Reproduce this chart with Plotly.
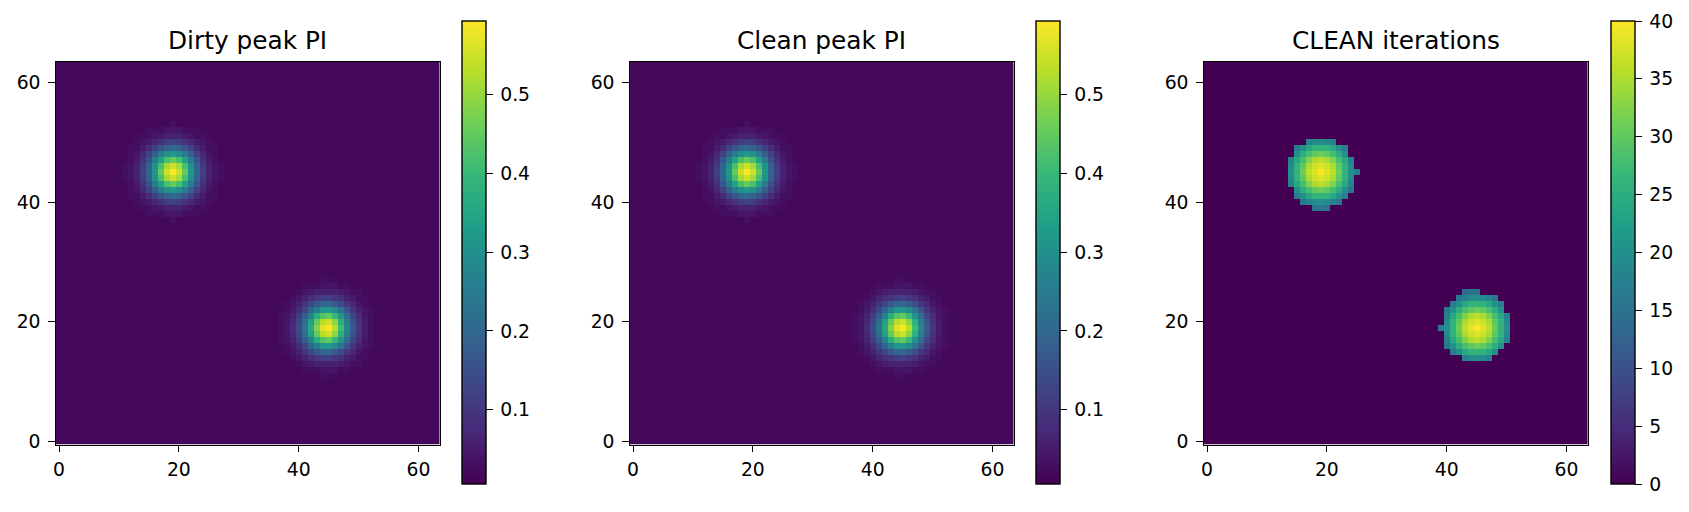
import plotly.graph_objects as go

GRID_SIZE = 64
TICKS = [0, 20, 40, 60]
TITLES = ["Dirty peak PI", "Clean peak PI", "CLEAN iterations"]

# Polarised-intensity level away from the sources (one estimated level; the
# per-pixel grain is too faint to read, so it is not reproduced).
PI_BACKGROUND = 0.02
PI_MIN = 0.006
PI_MAX = 0.593
PI_TICKS = [0.1, 0.2, 0.3, 0.4, 0.5]
ITER_TICKS = [0, 5, 10, 15, 20, 25, 30, 35, 40]

# Source near (19, 45): rows run from y=37 upward, columns from x=11.
PI_SOURCE_A = [
    [.02, .02, .02, .02, .02, .02, .02, .02, .03, .02, .02, .02, .02, .02, .02, .02, .02],
    [.02, .02, .02, .02, .03, .03, .03, .04, .04, .04, .03, .03, .03, .02, .02, .02, .02],
    [.02, .02, .02, .03, .03, .04, .05, .06, .06, .06, .05, .04, .03, .03, .02, .02, .02],
    [.02, .02, .03, .04, .05, .07, .09, .11, .12, .11, .09, .07, .05, .04, .03, .02, .02],
    [.02, .03, .03, .05, .08, .12, .16, .19, .20, .19, .16, .12, .08, .05, .03, .03, .02],
    [.02, .03, .04, .07, .12, .18, .25, .30, .32, .30, .25, .18, .12, .07, .04, .03, .02],
    [.02, .03, .05, .09, .16, .25, .34, .42, .45, .42, .34, .25, .16, .09, .05, .03, .02],
    [.03, .04, .06, .11, .19, .30, .42, .51, .55, .51, .42, .30, .19, .11, .06, .04, .03],
    [.03, .04, .06, .12, .20, .32, .45, .55, .59, .55, .45, .32, .20, .12, .06, .04, .03],
    [.03, .04, .06, .11, .19, .30, .42, .51, .55, .51, .42, .30, .19, .11, .06, .04, .03],
    [.02, .03, .05, .09, .16, .25, .34, .42, .45, .42, .34, .25, .16, .09, .05, .03, .02],
    [.02, .03, .04, .07, .12, .18, .25, .30, .32, .30, .25, .18, .12, .07, .04, .03, .02],
    [.02, .03, .03, .05, .08, .12, .16, .19, .20, .19, .16, .12, .08, .05, .03, .03, .02],
    [.02, .02, .03, .04, .05, .07, .09, .11, .12, .11, .09, .07, .05, .04, .03, .02, .02],
    [.02, .02, .02, .03, .03, .04, .05, .06, .06, .06, .05, .04, .03, .03, .02, .02, .02],
    [.02, .02, .02, .02, .03, .03, .03, .04, .04, .04, .03, .03, .03, .02, .02, .02, .02],
    [.02, .02, .02, .02, .02, .02, .02, .02, .03, .02, .02, .02, .02, .02, .02, .02, .02],
]

# Source near (45, 19): rows run from y=11 upward, columns from x=37.
PI_SOURCE_B = [
    [.02, .02, .02, .02, .02, .02, .02, .03, .03, .02, .02, .02, .02, .02, .02, .02, .02],
    [.02, .02, .02, .02, .03, .03, .03, .04, .04, .04, .03, .03, .02, .02, .02, .02, .02],
    [.02, .02, .02, .03, .04, .05, .06, .06, .06, .06, .05, .04, .03, .03, .02, .02, .02],
    [.02, .02, .03, .04, .06, .08, .10, .11, .12, .10, .09, .06, .05, .03, .03, .02, .02],
    [.02, .03, .04, .06, .09, .13, .17, .20, .20, .18, .14, .10, .07, .04, .03, .02, .02],
    [.02, .03, .05, .08, .13, .20, .26, .31, .32, .29, .23, .16, .10, .06, .04, .03, .02],
    [.03, .04, .06, .11, .18, .27, .37, .43, .45, .40, .31, .22, .13, .08, .04, .03, .02],
    [.03, .04, .07, .13, .22, .34, .45, .53, .55, .49, .38, .26, .16, .09, .05, .03, .02],
    [.03, .04, .08, .14, .23, .36, .48, .57, .59, .53, .41, .28, .17, .10, .05, .03, .02],
    [.03, .04, .07, .13, .22, .34, .45, .53, .55, .49, .38, .26, .16, .09, .05, .03, .02],
    [.03, .04, .06, .11, .18, .27, .37, .43, .45, .40, .31, .22, .13, .08, .04, .03, .02],
    [.02, .03, .05, .08, .13, .20, .26, .31, .32, .29, .23, .16, .10, .06, .04, .03, .02],
    [.02, .03, .04, .06, .09, .13, .17, .20, .20, .18, .14, .10, .07, .04, .03, .02, .02],
    [.02, .02, .03, .04, .06, .08, .10, .11, .12, .10, .09, .06, .05, .03, .03, .02, .02],
    [.02, .02, .02, .03, .04, .05, .06, .06, .06, .06, .05, .04, .03, .03, .02, .02, .02],
    [.02, .02, .02, .02, .03, .03, .03, .04, .04, .04, .03, .03, .02, .02, .02, .02, .02],
    [.02, .02, .02, .02, .02, .02, .02, .03, .03, .02, .02, .02, .02, .02, .02, .02, .02],
]

# Iteration counts around the first source: rows from y=39 upward, columns from x=14.
ITER_SOURCE_A = [
    [0, 0, 0, 0, 15, 16, 15, 0, 0, 0, 0, 0],
    [0, 0, 16, 18, 19, 20, 19, 18, 16, 0, 0, 0],
    [0, 17, 20, 24, 26, 26, 26, 24, 20, 17, 0, 0],
    [0, 20, 25, 28, 30, 31, 30, 28, 25, 20, 16, 0],
    [18, 24, 28, 32, 35, 36, 35, 32, 28, 24, 18, 0],
    [19, 26, 30, 35, 37, 38, 37, 35, 30, 26, 19, 0],
    [20, 26, 31, 36, 38, 40, 38, 36, 31, 26, 20, 17],
    [19, 26, 30, 35, 37, 38, 37, 35, 30, 26, 19, 0],
    [18, 24, 28, 32, 35, 36, 35, 32, 28, 24, 18, 0],
    [0, 20, 25, 28, 30, 31, 30, 28, 25, 20, 0, 0],
    [0, 17, 20, 24, 26, 26, 26, 24, 20, 17, 0, 0],
    [0, 0, 0, 18, 19, 20, 19, 18, 0, 0, 0, 0],
]

# Iteration counts around the second source: rows from y=14 upward, columns from x=39.
ITER_SOURCE_B = [
    [0, 0, 0, 0, 18, 19, 20, 19, 18, 0, 0, 0],
    [0, 0, 17, 20, 24, 26, 26, 26, 24, 20, 0, 0],
    [0, 16, 20, 25, 28, 30, 31, 30, 28, 25, 20, 0],
    [0, 18, 24, 28, 32, 35, 36, 35, 32, 28, 24, 18],
    [0, 19, 26, 30, 35, 37, 38, 37, 35, 30, 26, 19],
    [17, 20, 26, 31, 36, 38, 40, 38, 36, 31, 26, 20],
    [0, 19, 26, 30, 35, 37, 38, 37, 35, 30, 26, 19],
    [0, 18, 24, 28, 32, 35, 36, 35, 32, 28, 24, 18],
    [0, 16, 20, 25, 28, 30, 31, 30, 28, 25, 20, 0],
    [0, 0, 17, 20, 24, 26, 26, 26, 24, 20, 17, 0],
    [0, 0, 0, 16, 18, 19, 20, 19, 18, 16, 0, 0],
    [0, 0, 0, 0, 14, 15, 15, 0, 0, 0, 0, 0],
]

W, H = 1689, 512
# Pixel boxes: (left, right) for each image and colour bar, then shared vertical extents.
IMAGE_X = [(56, 439.5), (630, 1013.5), (1204, 1587.5)]
IMAGE_Y = (61.5, 444.5)
BAR_X = [461.5, 1036, 1610.5]
BAR_W = 24
BAR_Y = (21.5, 484)
FONT = "DejaVu Sans"
TICK_SIZE = 18.8
TITLE_SIZE = 24.8
LINE_W = 1.4


def stamp(level, patches):
    grid = [[level] * GRID_SIZE for _ in range(GRID_SIZE)]
    for (x0, y0), patch in patches:
        for r, row in enumerate(patch):
            for c, value in enumerate(row):
                if level == 0 and value == 0:
                    continue
                grid[y0 + r][x0 + c] = value
    return grid


pi_grid = stamp(PI_BACKGROUND, [((11, 37), PI_SOURCE_A), ((37, 11), PI_SOURCE_B)])
iter_grid = stamp(0, [((14, 39), ITER_SOURCE_A), ((39, 14), ITER_SOURCE_B)])

panels = [
    (pi_grid, PI_MIN, PI_MAX, PI_TICKS, "%.1f"),
    (pi_grid, PI_MIN, PI_MAX, PI_TICKS, "%.1f"),
    (iter_grid, 0, 40, ITER_TICKS, "%d"),
]

fig = go.Figure()
annotations = []
layout_axes = {}
for idx, (grid, zmin, zmax, bar_ticks, fmt) in enumerate(panels):
    suffix = "" if idx == 0 else str(idx + 1)
    fig.add_trace(go.Heatmap(
        z=grid,
        zmin=zmin,
        zmax=zmax,
        colorscale="Viridis",
        xaxis="x" + suffix,
        yaxis="y" + suffix,
        colorbar=dict(
            x=BAR_X[idx] / W,
            xanchor="left",
            xpad=0,
            ypad=0,
            y=1 - BAR_Y[1] / H,
            yanchor="bottom",
            len=(BAR_Y[1] - BAR_Y[0]) / H,
            lenmode="fraction",
            thickness=BAR_W,
            thicknessmode="pixels",
            tickmode="array",
            tickvals=bar_ticks,
            ticktext=["\u2009" + fmt % t for t in bar_ticks],
            ticks="outside",
            ticklen=6.5,
            tickwidth=LINE_W,
            tickcolor="black",
            outlinecolor="black",
            outlinewidth=LINE_W,
            tickfont=dict(family=FONT, size=TICK_SIZE, color="black"),
        ),
    ))
    common = dict(
        range=[-0.5, GRID_SIZE - 0.5],
        tickmode="array",
        tickvals=TICKS,
        ticks="outside",
        ticklen=6.5,
        tickwidth=LINE_W,
        tickcolor="black",
        showgrid=False,
        zeroline=False,
        showline=True,
        mirror=True,
        automargin=False,
        linecolor="black",
        linewidth=LINE_W,
        tickfont=dict(family=FONT, size=TICK_SIZE, color="black"),
    )
    left, right = IMAGE_X[idx]
    layout_axes["xaxis" + suffix] = dict(
        common, domain=[left / W, right / W], anchor="y" + suffix, ticklabelstandoff=1)
    layout_axes["yaxis" + suffix] = dict(
        common, domain=[1 - IMAGE_Y[1] / H, 1 - IMAGE_Y[0] / H], anchor="x" + suffix,
        ticklabelstandoff=4)
    annotations.append(dict(
        text=TITLES[idx],
        x=(left + right) / 2 / W,
        y=1 - (IMAGE_Y[0] - 4.5) / H,
        xref="paper",
        yref="paper",
        xanchor="center",
        yanchor="bottom",
        showarrow=False,
        font=dict(family=FONT, size=TITLE_SIZE, color="black"),
    ))

fig.update_layout(
    width=W,
    height=H,
    margin=dict(l=0, r=0, t=0, b=0, autoexpand=False),
    paper_bgcolor="white",
    plot_bgcolor="white",
    annotations=annotations,
    **layout_axes,
)

fig.write_html("out.html")
